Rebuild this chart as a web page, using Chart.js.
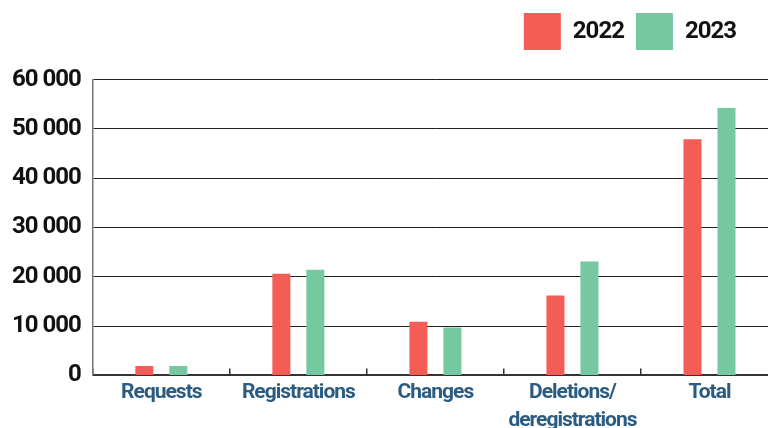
<!DOCTYPE html>
<html>
<head>
<meta charset="utf-8">
<script src="https://cdn.jsdelivr.net/npm/chart.js@4"></script>
<style>
  html, body { margin: 0; padding: 0; background: #fff; overflow: hidden; }
  #wrap { width: 778px; height: 428px; }
</style>
</head>
<body>
<div id="wrap"><canvas id="chart"></canvas></div>
<script>
// Dados
const categories = ['Requests', 'Registrations', 'Changes', ['Deletions/', 'deregistrations'], 'Total'];
const values2022 = [1900, 20600, 10900, 16200, 47900];
const values2023 = [1900, 21400, 9700, 23100, 54200];
const yTicks = [0, 10000, 20000, 30000, 40000, 50000, 60000];

// letras mais apertadas, como na fonte condensada do original
const tightText = {
  id: 'tightText',
  beforeUpdate(chart) { chart.ctx.letterSpacing = '-1px'; },
  beforeDraw(chart) { chart.ctx.letterSpacing = '-1px'; }
};

// legenda: espaço extra abaixo e deslocada para a esquerda
const legendNudge = {
  id: 'legendNudge',
  afterInit(chart) {
    const lg = chart.legend;
    if (!lg || lg._nudged) return;
    const fit = lg.fit;
    lg.fit = function() { fit.call(this); this.height += 19.5; };
    lg._nudged = true;
  },
  afterLayout(chart) {
    chart.legend.right -= 30;
  }
};

const ctx = document.getElementById('chart').getContext('2d');
const chart = new Chart(ctx, {
  type: 'bar',
  data: {
    labels: categories,
    datasets: [{
      label: '2022',
      data: values2022,
      backgroundColor: '#f45d55'
    }, {
      label: '2023',
      data: values2023,
      backgroundColor: '#76c8a0'
    }]
  },
  options: {
    responsive: true,
    maintainAspectRatio: false,
    animation: false,
    categoryPercentage: 0.496,
    barPercentage: 0.53,
    layout: { padding: { top: 1, left: 0, right: 0, bottom: -17 } },
    plugins: {
      legend: {
        position: 'top',
        align: 'end',
        labels: {
          boxWidth: 37,
          boxHeight: 37,
          padding: 12,
          color: '#111',
          font: { family: 'Roboto', size: 24, weight: 'bold' }
        }
      },
      tooltip: { enabled: false }
    },
    scales: {
      x: {
        grid: {
          offset: true,
          drawOnChartArea: false,
          tickLength: -7,
          color: '#333',
          lineWidth: 1.5
        },
        border: { color: '#333', width: 2 },
        ticks: {
          autoSkip: false,
          color: '#2b5b81',
          padding: 11,
          maxRotation: 0,
          font: { family: 'Roboto', size: 21, weight: 'bold', lineHeight: 1.3 }
        }
      },
      y: {
        min: 0,
        max: 60000,
        afterBuildTicks: axis => { axis.ticks = yTicks.map(v => ({ value: v })); },
        grid: { color: '#222', lineWidth: 1, drawTicks: false },
        border: { color: '#777', width: 1.5 },
        ticks: {
          color: '#111',
          padding: 12,
          font: { family: 'Roboto', size: 24, weight: 'bold' },
          callback: v => String(v).replace(/\B(?=(\d{3})+(?!\d))/g, ' ')
        }
      }
    }
  },
  plugins: [tightText, legendNudge]
});
</script>
</body>
</html>
